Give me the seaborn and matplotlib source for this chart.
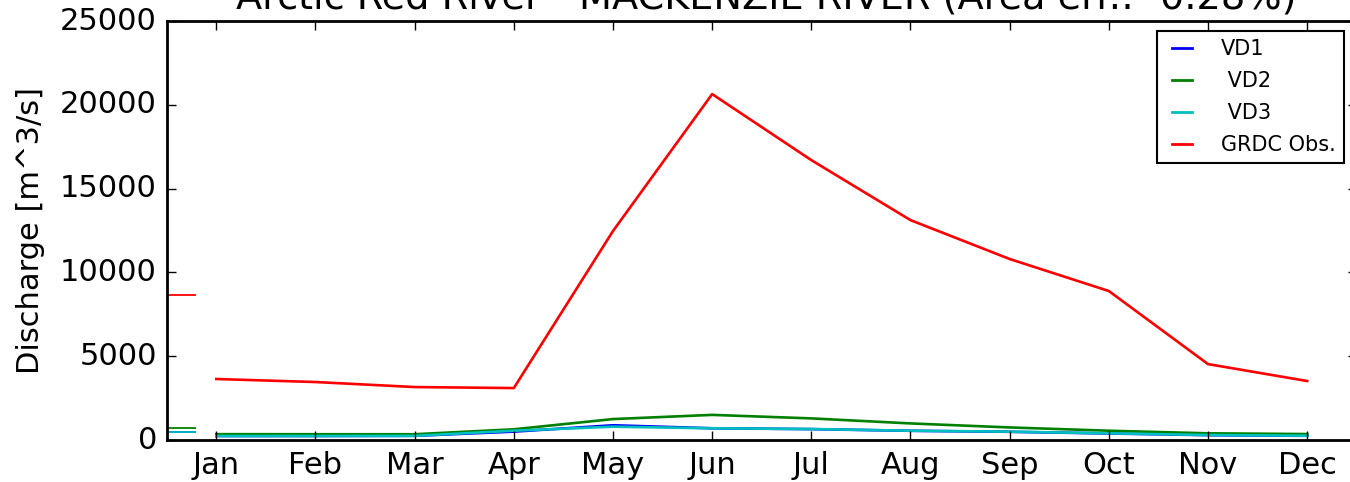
import numpy as np
import seaborn as sns
import matplotlib
matplotlib.use('Agg')
import matplotlib.pyplot as plt

plt.style.use('classic')
plt.rcParams['font.family'] = ['DejaVu Sans']

months = ['Jan', 'Feb', 'Mar', 'Apr', 'May', 'Jun',
          'Jul', 'Aug', 'Sep', 'Oct', 'Nov', 'Dec']
month_idx = list(range(1, 13))

vd1 = [240, 240, 250, 500, 880, 700, 650, 550, 490, 390, 290, 250]
vd2 = [350, 345, 345, 640, 1250, 1500, 1290, 990, 750, 555, 400, 355]
vd3 = [240, 240, 250, 555, 795, 700, 656, 555, 497, 400, 298, 257]
grdc = [3640, 3460, 3160, 3100, 12470, 20640, 16700, 13120, 10800, 8890, 4530, 3520]

series = [(vd1, 'b', 'VD1'),
          (vd2, 'g', ' VD2'),
          (vd3, 'c', ' VD3'),
          (grdc, 'r', 'GRDC Obs.')]

fig = plt.figure(figsize=(13.5, 4.82), dpi=100, facecolor='white')
ax = fig.add_axes([0.1235, 0.0871, 0.8815, 0.8693])

for vals, col, lab in series:
    sns.lineplot(x=month_idx, y=vals, color=col, label=lab, linewidth=1.9, ax=ax)
    # short annual mean marker on the left edge
    ax.hlines(np.mean(vals), 0.5, 0.8, color=col, linewidth=1.3)

ax.set_xlim(0.5, 12.5)
ax.set_ylim(0, 25000)
ax.set_xticks(month_idx)
ax.set_xticklabels(months)
ax.set_yticks(range(0, 25001, 5000))
ax.tick_params(axis='both', which='major', labelsize=22, direction='in',
               length=6.5, width=1, top=True, right=True)
ax.tick_params(axis='x', pad=8)
ax.tick_params(axis='y', pad=7)
for sp in ax.spines.values():
    sp.set_linewidth(2)

ax.set_ylabel('Discharge [m^3/s]', fontsize=22, labelpad=11)
ax.set_title('Arctic Red River - MACKENZIE RIVER (Area err.: -0.28%)',
             fontsize=27.5, pad=9, x=0.504)

leg = ax.legend(loc='upper right', bbox_to_anchor=(0.9893, 0.976),
                borderaxespad=0, fontsize=15, handlelength=1.55,
                handletextpad=1.1, labelspacing=0.57, borderpad=0.4,
                fancybox=False, frameon=True)
leg.get_frame().set_edgecolor('black')
leg.get_frame().set_linewidth(1.5)
for h in leg.get_lines():
    h.set_linewidth(2)

fig.savefig('out.png', dpi=100, facecolor='white')
